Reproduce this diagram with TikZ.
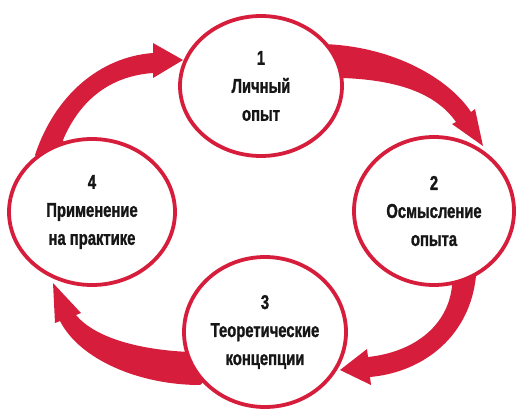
\documentclass[tikz,border=0pt]{standalone}
\usepackage{fontspec}
\setmainfont{Liberation Sans}[FakeStretch=0.74,FakeBold=1.2]
\usetikzlibrary{shapes.geometric,backgrounds}
\definecolor{cyclered}{RGB}{214,30,60}
\definecolor{inktext}{RGB}{22,22,22}
\begin{document}
\begin{tikzpicture}[x=1pt,y=-1pt,
  stage/.style={ellipse, draw=cyclered, line width=3.8pt, fill=white, inner sep=0pt,
    align=center, text=inktext, font=\bfseries\fontsize{20}{28}\selectfont},
  band/.style={fill=cyclered}]
\useasboundingbox (0,0) rectangle (517,415);

\node[stage, minimum width=162pt, minimum height=140pt] (n1) at (261,86) {1\\Личный\\опыт};
\node[stage, minimum width=160pt, minimum height=148pt] (n2) at (434,211) {2\\Осмысление\\опыта};
\node[stage, minimum width=162pt, minimum height=150pt] (n3) at (265,332) {3\\Теоретические\\концепции};
\node[stage, minimum width=166pt, minimum height=146pt] (n4) at (92,212) {4\\Применение\\на практике};

\begin{scope}[on background layer]
\fill[white] (0,0) rectangle (517,415);
% 1 -> 2
\fill[band] (n1.center) -- (322,44) .. controls (395,46) and (450,80) .. (471,112)
  -- (475,109) -- (483,146) -- (452,124) -- (456,122)
  .. controls (435,92) and (395,80) .. (343,78) -- cycle;
% 2 -> 3
\fill[band] (n2.center) -- (476,276) .. controls (470,335) and (425,372) .. (370,377)
  -- (371,385) -- (340,370) -- (367,349) -- (368,357)
  .. controls (415,352) and (448,325) .. (452,286) -- cycle;
% 3 -> 4
\fill[band] (n3.center) -- (190,352) .. controls (140,350) and (95,338) .. (76,315)
  -- (81,313) -- (53,283) -- (55,323) -- (60,321)
  .. controls (80,360) and (140,385) .. (200,385) -- cycle;
% 4 -> 1
\fill[band] (n4.center) -- (35,155) .. controls (55,95) and (100,57) .. (153,53)
  -- (153,43) -- (183,60) -- (153,78) -- (153,73)
  .. controls (110,76) and (80,100) .. (63,140) -- cycle;
\end{scope}
\end{tikzpicture}
\end{document}
